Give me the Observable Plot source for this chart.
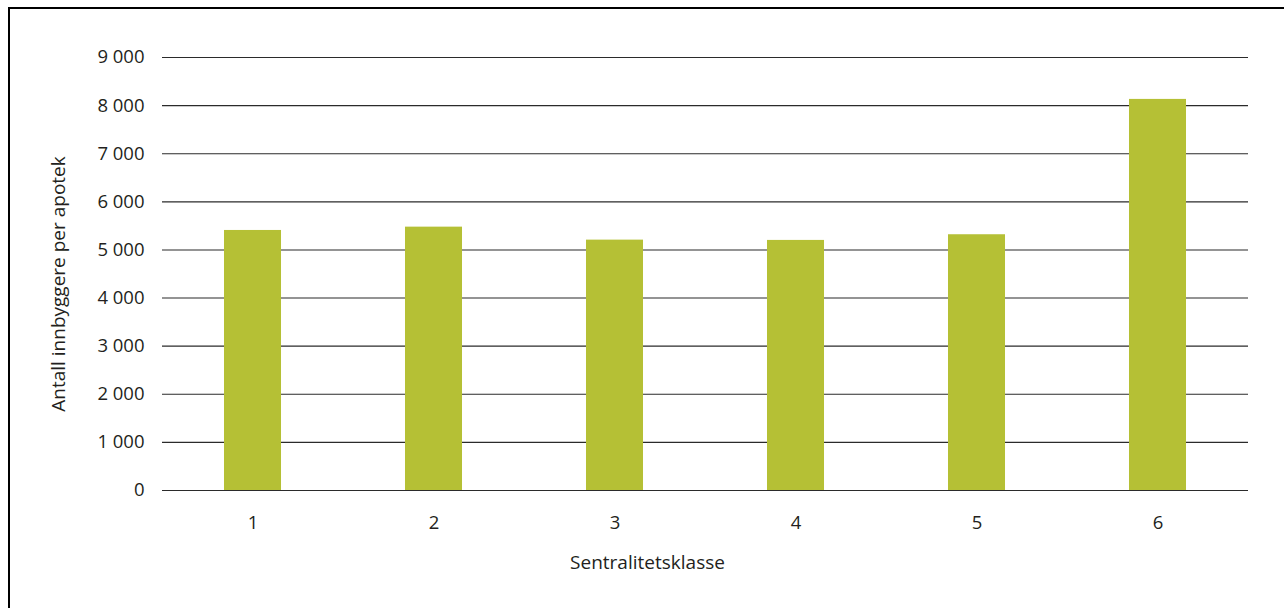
<!DOCTYPE html>
<html>
<head>
<meta charset="utf-8">
<script src="https://cdn.jsdelivr.net/npm/d3@7"></script>
<script src="https://cdn.jsdelivr.net/npm/@observablehq/plot@0.6"></script>
<style>
  html, body { margin: 0; padding: 0; background: #fff; }
  #wrap { position: relative; width: 1284px; height: 608px; overflow: hidden; }
  #frame { position: absolute; left: 8px; top: 7px; width: 1400px; height: 700px;
           border-top: 2px solid #000; border-left: 2px solid #000; pointer-events: none; }
  #chart { position: absolute; left: 0; top: 0; }
</style>
</head>
<body>
<div id="wrap">
  <div id="chart"></div>
  <div id="frame"></div>
</div>
<script>
// Centrality classes and inhabitants per pharmacy
const classes = ["1", "2", "3", "4", "5", "6"];
const inhabitants = [5405, 5474, 5204, 5198, 5316, 8129];
const yTicks = [0, 1000, 2000, 3000, 4000, 5000, 6000, 7000, 8000, 9000];

const rows = classes.map((c, i) => ({klasse: c, antall: inhabitants[i]}));
const fmt = d => d3.format(",")(d).replace(/,/g, " ");
const font = "'Open Sans', sans-serif";
const ink = "#231f20";

const chart = Plot.plot({
  width: 1284,
  height: 608,
  marginLeft: 162,
  marginRight: 36,
  marginTop: 57,
  marginBottom: 118,
  style: {fontFamily: font, fontSize: "18.5px", color: ink, background: "transparent"},
  x: {domain: classes, paddingInner: 0.685, paddingOuter: 0.3425, round: false, label: null},
  y: {domain: [0, 9000], label: null},
  marks: [
    Plot.gridY(yTicks, {stroke: "#2b2b2b", strokeOpacity: 1, strokeWidth: 1.1}),
    Plot.axisY(yTicks, {tickSize: 0, tickPadding: 18, tickFormat: fmt, fontSize: 18.5, label: null}),
    Plot.axisX({tickSize: 0, tickPadding: 25, fontSize: 18.5, label: null}),
    Plot.barY(rows, {x: "klasse", y: "antall", fill: "#b5c035"}),
    Plot.ruleY([0], {stroke: "#2b2b2b", strokeWidth: 1.1}),
    Plot.text(["Antall innbyggere per apotek"], {
      frameAnchor: "left", textAnchor: "middle", lineAnchor: "middle",
      rotate: -90, dx: -104, dy: 10, fontSize: 19, fill: ink
    }),
    Plot.text(["Sentralitetsklasse"], {
      frameAnchor: "bottom", textAnchor: "middle", lineAnchor: "middle",
      dx: -58, dy: 72, fontSize: 19, fill: ink
    })
  ]
});
document.getElementById("chart").appendChild(chart);
</script>
</body>
</html>
